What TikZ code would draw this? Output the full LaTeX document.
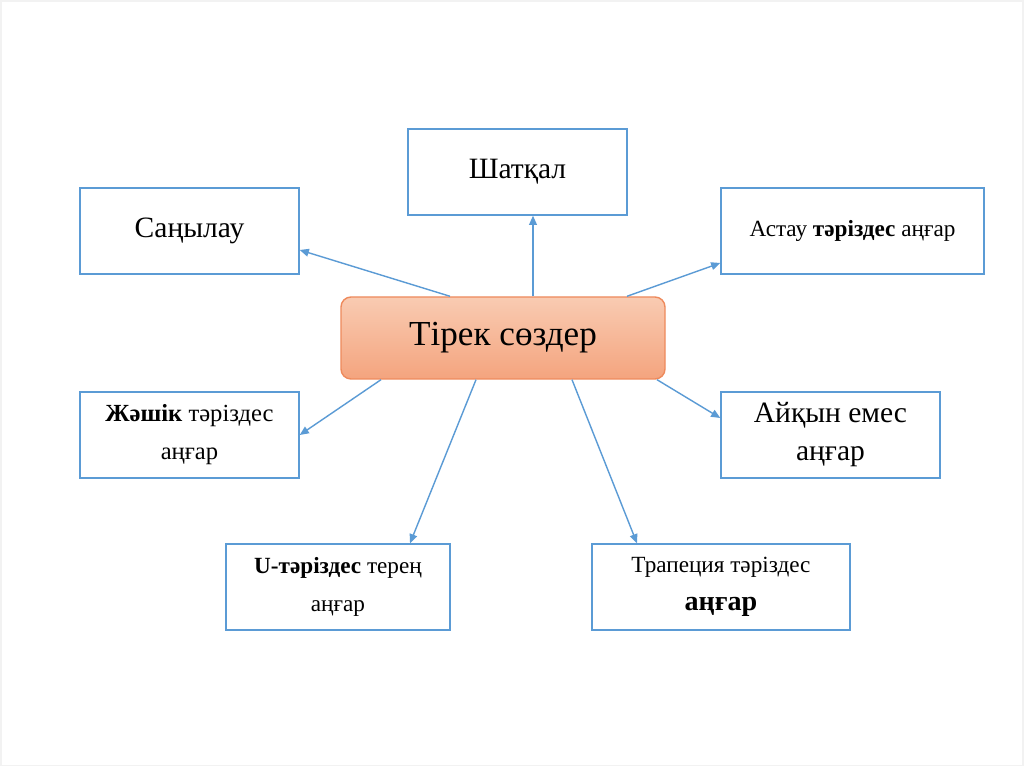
\documentclass[tikz,border=0pt]{standalone}
\usepackage{fontspec}
\setmainfont{Liberation Serif}
\usepackage{tikz}
\usetikzlibrary{positioning,calc,arrows.meta}
\definecolor{MapBlue}{HTML}{5B9BD5}
\definecolor{MapPeachTop}{HTML}{F9CBB2}
\definecolor{MapPeachBot}{HTML}{F4A47E}
\definecolor{MapPeachEdge}{HTML}{EE8A5C}
\definecolor{MapFrame}{HTML}{F2F2F2}

\begin{document}
\begin{tikzpicture}[
  termbox/.style={draw=MapBlue, line width=1pt, fill=white, align=center,
    minimum height=2.15cm, inner sep=2pt},
  hubbox/.style={draw=MapPeachEdge, line width=1pt, rounded corners=0.25cm,
    top color=MapPeachTop, bottom color=MapPeachBot, minimum width=8.1cm,
    minimum height=2.05cm},
  link/.style={MapBlue, line width=1pt, -{Triangle[length=6.5pt,width=5.5pt]}}
]
  %% Canvas
  \useasboundingbox (0,0) rectangle (25.6,19.175);
  \fill[white] (0,0) rectangle (25.6,19.175);
  \draw[MapFrame, line width=1pt] (0.03,0.03) rectangle (25.57,19.145);

  %% Central node
  \node[hubbox, font=\fontsize{25}{30}\selectfont] (tirek) at (12.575,10.725) {Тірек сөздер};

  %% Surrounding terms
  \node[termbox, minimum width=5.475cm, font=\fontsize{21}{25}\selectfont]
    (sanylau) at (4.7375,13.4) {Саңылау};
  \node[termbox, minimum width=5.475cm, font=\fontsize{21}{25}\selectfont]
    (shatkal) at (12.9375,14.875) {Шатқал};
  \node[termbox, minimum width=6.575cm, font=\fontsize{16.5}{19}\selectfont]
    (astau) at (21.3125,13.4) {Астау \textbf{тәріздес} аңғар};
  \node[termbox, minimum width=5.475cm, font=\fontsize{17.5}{27}\selectfont]
    (zhashik) at (4.7375,8.3) {\textbf{Жәшік} тәріздес\\аңғар};
  \node[termbox, minimum width=5.475cm, font=\fontsize{21}{27}\selectfont]
    (aikyn) at (20.7625,8.3) {Айқын емес\\аңғар};
  \node[termbox, minimum width=5.6cm, font=\fontsize{16.5}{27}\selectfont]
    (utar) at (8.45,4.5) {\textbf{U-тәріздес} терең\\аңғар};
  \node[termbox, minimum width=6.45cm, font=\fontsize{16.5}{27}\selectfont]
    (trapez) at (18.025,4.5) {Трапеция тәріздес\\{\fontsize{20}{27}\selectfont\textbf{аңғар}}};

  %% Connectors
  \draw[link] ([xshift=-1.325cm]tirek.north) -- ([yshift=-0.475cm]sanylau.east);
  \draw[link] ([xshift=0.75cm]tirek.north) -- ([xshift=0.3875cm]shatkal.south);
  \draw[link] ([xshift=3.1cm]tirek.north) -- ([yshift=-0.8cm]astau.west);
  \draw[link] ([xshift=-3.05cm]tirek.south) -- (zhashik.east);
  \draw[link] ([xshift=-0.675cm]tirek.south) -- ([xshift=1.8cm]utar.north);
  \draw[link] ([xshift=1.725cm]tirek.south) -- ([xshift=-2.1cm]trapez.north);
  \draw[link] ([xshift=3.85cm]tirek.south) -- ([yshift=0.425cm]aikyn.west);
\end{tikzpicture}
\end{document}
